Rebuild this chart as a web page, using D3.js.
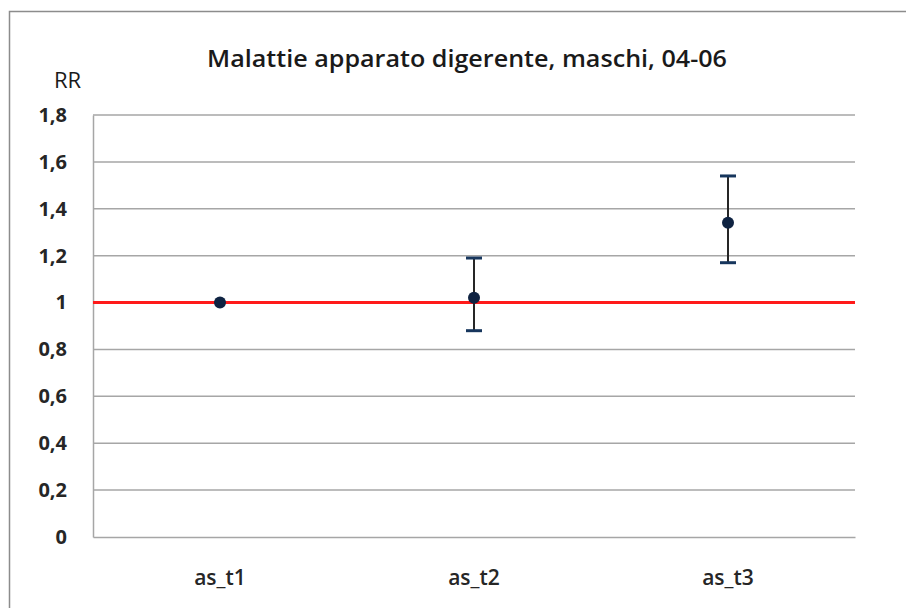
<!DOCTYPE html>
<html>
<head>
<meta charset="utf-8">
<script src="https://cdn.jsdelivr.net/npm/d3@7"></script>
<style>
  html, body { margin: 0; padding: 0; background: #fff; }
  svg { display: block; }
</style>
</head>
<body>
<svg id="chart" width="906" height="608"></svg>
<script>
const categories = ["as_t1", "as_t2", "as_t3"];
const rrValues = [1.0, 1.02, 1.34];
const lowerCI = [1.0, 0.88, 1.17];
const upperCI = [1.0, 1.19, 1.54];
const yTicks = [0, 0.2, 0.4, 0.6, 0.8, 1, 1.2, 1.4, 1.6, 1.8];
const referenceValue = 1;
const title = "Malattie apparato digerente, maschi, 04-06";
const yLabel = "RR";

const svg = d3.select("#chart");
const W = 906, H = 608;
const plot = { left: 93, right: 855, top: 115, bottom: 537 };

// outer border (top + left visible)
svg.append("path")
  .attr("d", `M9.5,${H} L9.5,11.5 L${W},11.5`)
  .attr("fill", "none").attr("stroke", "#8c8c8c").attr("stroke-width", 1.5);

const x = d3.scaleBand().domain(categories).range([plot.left, plot.right]);
const y = d3.scaleLinear().domain([0, 1.8]).range([plot.bottom, plot.top]);

const fmt = v => String(v).replace(".", ",");

// gridlines
svg.append("g").selectAll("line").data(yTicks.filter(t => t !== 0 && t !== referenceValue))
  .join("line")
  .attr("x1", plot.left).attr("x2", plot.right)
  .attr("y1", d => y(d)).attr("y2", d => y(d))
  .attr("stroke", "#a6a6a6").attr("stroke-width", 1.5);

// axes lines
const yAxis = d3.axisLeft(y).tickValues(yTicks).tickFormat(fmt).tickSize(0).tickPadding(26);
const gy = svg.append("g").attr("transform", `translate(${plot.left},0)`).call(yAxis);
gy.select(".domain").attr("stroke", "#a6a6a6").attr("stroke-width", 1.5);
gy.selectAll("text")
  .attr("font-family", "'Open Sans', sans-serif").attr("font-weight", "bold")
  .attr("font-size", 20).attr("fill", "#262626");

const xAxis = d3.axisBottom(x).tickSize(0).tickPadding(33);
const gx = svg.append("g").attr("transform", `translate(0,${plot.bottom})`).call(xAxis);
gx.select(".domain").attr("stroke", "#a6a6a6").attr("stroke-width", 1.5);
gx.selectAll("text")
  .attr("font-family", "'Open Sans', sans-serif").attr("font-weight", 600)
  .attr("font-size", 21).attr("fill", "#262626");

// reference line
svg.append("line")
  .attr("x1", plot.left).attr("x2", plot.right)
  .attr("y1", y(referenceValue)).attr("y2", y(referenceValue))
  .attr("stroke", "#ff1a1a").attr("stroke-width", 3);

// error bars
const data = categories.map((c, i) => ({ c, v: rrValues[i], lo: lowerCI[i], hi: upperCI[i] }));
const cx = d => x(d.c) + x.bandwidth() / 2;
const eb = svg.append("g").selectAll("g").data(data.filter(d => d.hi !== d.lo)).join("g");
eb.append("line")
  .attr("x1", cx).attr("x2", cx)
  .attr("y1", d => y(d.lo)).attr("y2", d => y(d.hi))
  .attr("stroke", "#262626").attr("stroke-width", 2);
eb.append("line")
  .attr("x1", d => cx(d) - 8).attr("x2", d => cx(d) + 8)
  .attr("y1", d => y(d.hi)).attr("y2", d => y(d.hi))
  .attr("stroke", "#17365d").attr("stroke-width", 3);
eb.append("line")
  .attr("x1", d => cx(d) - 8).attr("x2", d => cx(d) + 8)
  .attr("y1", d => y(d.lo)).attr("y2", d => y(d.lo))
  .attr("stroke", "#17365d").attr("stroke-width", 3);

// points
svg.append("g").selectAll("circle").data(data).join("circle")
  .attr("cx", cx)
  .attr("cy", d => y(d.v))
  .attr("r", 6)
  .attr("fill", "#0f2342");

// title
svg.append("text")
  .attr("x", 467).attr("y", 67)
  .attr("text-anchor", "middle")
  .attr("font-family", "'Open Sans', sans-serif").attr("font-size", 23).attr("font-weight", 600)
  .attr("textLength", 520).attr("lengthAdjust", "spacingAndGlyphs")
  .attr("fill", "#1a1a1a")
  .text(title);

// y label
svg.append("text")
  .attr("x", 54).attr("y", 88)
  .attr("font-family", "'Open Sans', sans-serif").attr("font-size", 22)
  .attr("fill", "#1a1a1a")
  .text(yLabel);
</script>
</body>
</html>
